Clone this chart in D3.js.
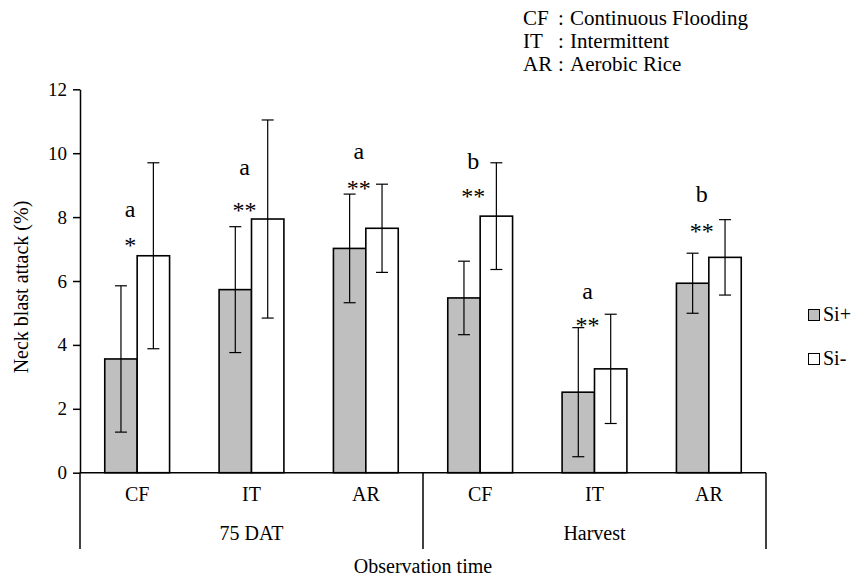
<!DOCTYPE html>
<html>
<head>
<meta charset="utf-8">
<script src="https://cdn.jsdelivr.net/npm/d3@7"></script>
<style>
  html, body { margin: 0; padding: 0; background: #fff; }
  svg { display: block; }
</style>
</head>
<body>
<svg id="chart" width="864" height="580"></svg>
<script>
// ---- data ----
const categories = ["CF", "IT", "AR", "CF", "IT", "AR"];
const groups = ["75 DAT", "Harvest"];
const groupSize = 3;
const seriesNames = ["Si+", "Si-"];
const siPlus = [3.56, 5.73, 7.02, 5.47, 2.52, 5.93];
const siPlusErr = [2.29, 1.97, 1.70, 1.15, 2.02, 0.94];
const siMinus = [6.79, 7.94, 7.65, 8.03, 3.25, 6.74];
const siMinusErr = [2.91, 3.10, 1.38, 1.67, 1.71, 1.18];
const sigMarks = ["*", "**", "**", "**", "**", "**"];
const sigY = [6.88, 7.98, 8.66, 8.42, 4.38, 7.31];
const letters = ["a", "a", "a", "b", "a", "b"];
const letterY = [7.99, 9.32, 9.81, 9.50, 5.43, 8.48];
const yTicks = [0, 2, 4, 6, 8, 10, 12];
const abbrevs = ["CF", "IT", "AR"];
const abbrevNames = ["Continuous Flooding", "Intermittent", "Aerobic Rice"];
const yTitle = "Neck blast attack (%)";
const xTitle = "Observation time";

// ---- layout ----
const FONT = '"Liberation Serif", "Times New Roman", "DejaVu Serif", serif';
const svg = d3.select("#chart").attr("font-family", FONT);
const plotL = 80, plotR = 766, plotT = 89.3, plotB = 472.7;
const fills = { "Si+": "#bfbfbf", "Si-": "#ffffff" };

function txt(sel, size) {
  return sel.attr("font-family", FONT).style("font-family", FONT)
    .attr("font-size", size).style("font-size", size + "px").attr("fill", "#000");
}

const x0 = d3.scaleBand().domain(d3.range(categories.length)).range([plotL, plotR]).padding(0);
const x1 = d3.scaleBand().domain(seriesNames).range([0, x0.bandwidth()]).paddingInner(0).paddingOuter(0.764);
const y = d3.scaleLinear().domain([0, 12]).range([plotB, plotT]);

const rows = categories.map((c, i) => ({
  i, c,
  vals: [
    { s: "Si+", v: siPlus[i], e: siPlusErr[i] },
    { s: "Si-", v: siMinus[i], e: siMinusErr[i] }
  ]
}));

// bars
const g = svg.append("g");
const cat = g.selectAll("g.cat").data(rows).join("g")
  .attr("class", "cat")
  .attr("transform", d => `translate(${x0(d.i)},0)`);

cat.selectAll("rect").data(d => d.vals).join("rect")
  .attr("x", d => x1(d.s))
  .attr("y", d => y(d.v))
  .attr("width", x1.bandwidth())
  .attr("height", d => y(0) - y(d.v))
  .attr("fill", d => fills[d.s])
  .attr("stroke", "#000")
  .attr("stroke-width", 1.6);

// error bars
const capW = 12;
cat.selectAll("g.err").data(d => d.vals).join("g")
  .attr("class", "err")
  .each(function(d) {
    const cx = x1(d.s) + x1.bandwidth() / 2;
    const el = d3.select(this);
    el.append("line").attr("x1", cx).attr("x2", cx)
      .attr("y1", y(d.v + d.e)).attr("y2", y(d.v - d.e))
      .attr("stroke", "#000").attr("stroke-width", 1.2);
    [d.v + d.e, d.v - d.e].forEach(t => {
      el.append("line").attr("x1", cx - capW / 2).attr("x2", cx + capW / 2)
        .attr("y1", y(t)).attr("y2", y(t))
        .attr("stroke", "#000").attr("stroke-width", 1.2);
    });
  });

// annotations
const annDx = -7;
rows.forEach(d => {
  const cx = x0(d.i) + x0.bandwidth() / 2 + annDx;
  txt(g.append("text"), 24).attr("x", cx).attr("y", y(sigY[d.i]))
    .attr("text-anchor", "middle").text(sigMarks[d.i]);
  txt(g.append("text"), 24).attr("x", cx).attr("y", y(letterY[d.i]))
    .attr("text-anchor", "middle").text(letters[d.i]);
});

// y axis
const yAxis = d3.axisLeft(y).tickValues(yTicks).tickSize(7).tickSizeOuter(0).tickPadding(6);
const ya = svg.append("g").attr("transform", `translate(${plotL},0)`).call(yAxis);
ya.selectAll("path, line").attr("stroke", "#000").attr("stroke-width", 1.5);
ya.attr("font-family", FONT);
txt(ya.selectAll("text"), 19);

// x axis baseline
svg.append("line").attr("x1", plotL).attr("x2", plotR).attr("y1", y(0)).attr("y2", y(0))
  .attr("stroke", "#000").attr("stroke-width", 1.5);

// category labels
const xa = d3.axisBottom(x0).tickFormat(i => categories[i]).tickSize(0).tickPadding(14);
const xg = svg.append("g").attr("transform", `translate(0,${y(0)})`).call(xa);
xg.select("path").remove();
xg.attr("font-family", FONT);
txt(xg.selectAll("text"), 20);

// group separators and labels
const groupEdges = d3.range(groups.length + 1).map(k => k === groups.length ? plotR : x0(k * groupSize));
groupEdges.forEach(xe => {
  svg.append("line").attr("x1", xe).attr("x2", xe).attr("y1", y(0)).attr("y2", 549)
    .attr("stroke", "#000").attr("stroke-width", 1.5);
});
groups.forEach((gName, k) => {
  txt(svg.append("text"), 20).attr("x", (groupEdges[k] + groupEdges[k + 1]) / 2).attr("y", 540)
    .attr("text-anchor", "middle").text(gName);
});

// axis titles
txt(svg.append("text"), 20).attr("x", (plotL + plotR) / 2).attr("y", 573)
  .attr("text-anchor", "middle").text(xTitle);
txt(svg.append("text"), 20).attr("transform", `translate(28,${(plotT + plotB) / 2 + 6}) rotate(-90)`)
  .attr("text-anchor", "middle").text(yTitle);

// abbreviation note
abbrevs.forEach((a, k) => {
  const by = 25 + k * 23;
  txt(svg.append("text"), 21).attr("x", 523).attr("y", by).text(a);
  txt(svg.append("text"), 21).attr("x", 558).attr("y", by).text(":");
  txt(svg.append("text"), 21).attr("x", 570).attr("y", by).text(abbrevNames[k]);
});

// legend
seriesNames.forEach((s, k) => {
  const ly = 321 + k * 44;
  svg.append("rect").attr("x", 808.5).attr("y", ly - 11.5).attr("width", 11).attr("height", 11)
    .attr("fill", fills[s]).attr("stroke", "#000").attr("stroke-width", 1);
  txt(svg.append("text"), 20).attr("x", 823).attr("y", ly).text(s);
});
</script>
</body>
</html>
